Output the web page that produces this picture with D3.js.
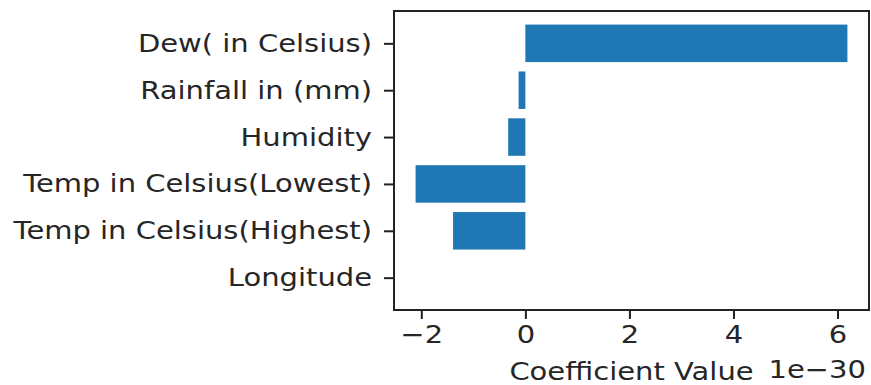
<!DOCTYPE html>
<html>
<head>
<meta charset="utf-8">
<script src="https://cdn.jsdelivr.net/npm/d3@7"></script>
<style>
  html, body { margin: 0; padding: 0; background: #fff; }
  svg { display: block; }
  text { font-family: "DejaVu Sans", sans-serif; fill: #262626; }
</style>
</head>
<body>
<script>
// Data (bottom to top, as in matplotlib barh)
const categories = ["Longitude", "Temp in Celsius(Highest)", "Temp in Celsius(Lowest)", "Humidity", "Rainfall in (mm)", "Dew( in Celsius)"];
const coefficients = [0.0, -1.39, -2.11, -0.33, -0.13, 6.19]; // ×1e-30
const xTicks = [-2, 0, 2, 4, 6];
const xLabel = "Coefficient Value";
const offsetLabel = "1e\u221230";

const W = 871, H = 385;
const L = 394, R = 869, T = 11, B = 310;
const FS = 25;
const SX = 1.16; // horizontal stretch of the reference's text

const svg = d3.select("body").append("svg").attr("width", W).attr("height", H);

const x = d3.scaleLinear().domain([-2.525, 6.605]).range([L, R]);
const y = d3.scaleLinear().domain([-0.69, categories.length - 1 + 0.69]).range([B, T]);
const bh = Math.abs(y(0.4) - y(-0.4));

function stretch(sel) {
  sel.each(function () {
    const t = d3.select(this);
    const ax = +t.attr("x") || 0;
    t.attr("transform", `translate(${ax},0) scale(${SX},1) translate(${-ax},0)`);
  });
}

svg.append("g").selectAll("rect")
  .data(coefficients)
  .join("rect")
  .attr("x", d => x(Math.min(0, d)))
  .attr("width", d => Math.abs(x(d) - x(0)))
  .attr("y", (d, i) => y(i + 0.4))
  .attr("height", bh)
  .attr("fill", "#1f77b4");

// Y axis
const yAxis = svg.append("g").attr("transform", `translate(${L},0)`)
  .call(d3.axisLeft(y).tickValues(d3.range(categories.length))
    .tickFormat(i => categories[i]).tickSize(10).tickPadding(12));
yAxis.select(".domain").remove();
yAxis.selectAll("line").attr("stroke", "#222").attr("stroke-width", 2);
yAxis.selectAll("text").attr("font-size", FS).attr("font-family", "DejaVu Sans").attr("fill", "#262626").call(stretch);

// X axis
const xAxis = svg.append("g").attr("transform", `translate(0,${B})`)
  .call(d3.axisBottom(x).tickValues(xTicks)
    .tickFormat(d => d < 0 ? "\u2212" + Math.abs(d) : String(d)).tickSize(9).tickPadding(6));
xAxis.select(".domain").remove();
xAxis.selectAll("line").attr("stroke", "#222").attr("stroke-width", 2);
xAxis.selectAll("text").attr("font-size", FS).attr("font-family", "DejaVu Sans").attr("fill", "#262626").call(stretch);

// Frame
svg.append("rect").attr("x", L).attr("y", T).attr("width", R - L).attr("height", B - T)
  .attr("fill", "none").attr("stroke", "#222").attr("stroke-width", 2);

// Labels
svg.append("text").attr("x", (L + R) / 2).attr("y", 380).attr("text-anchor", "middle")
  .attr("font-size", FS).text(xLabel).call(stretch);
svg.append("text").attr("x", 866).attr("y", 378).attr("text-anchor", "end")
  .attr("font-size", FS).text(offsetLabel).call(stretch);
</script>
</body>
</html>
